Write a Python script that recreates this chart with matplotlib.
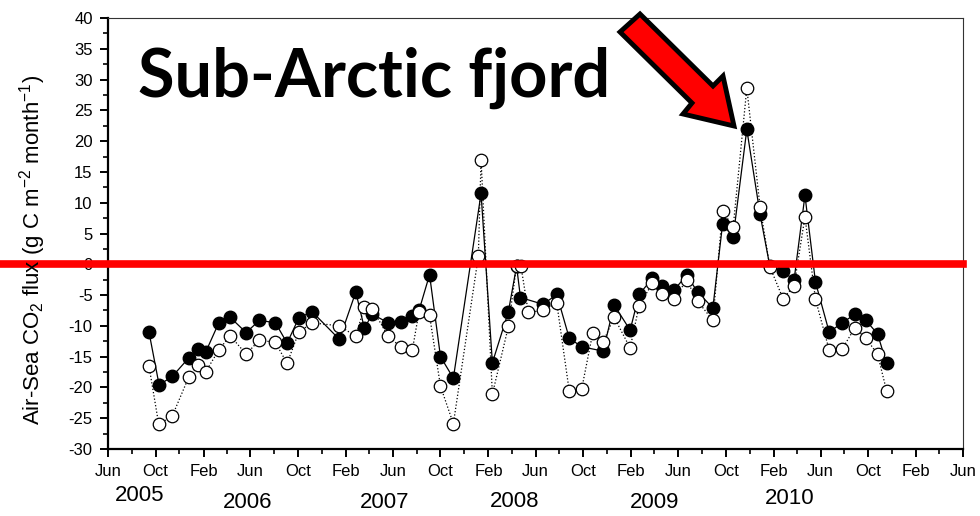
import numpy as np
import pandas as pd
import matplotlib
matplotlib.use('Agg')
import matplotlib.pyplot as plt
import matplotlib.dates as mdates
from matplotlib.patches import Polygon

plt.rcParams['font.family'] = ['Liberation Sans', 'DejaVu Sans']
plt.rcParams['axes.unicode_minus'] = False
plt.rcParams['mathtext.default'] = 'regular'

# monthly air-sea CO2 flux, two estimates
filled_dates = ['2005-09-14', '2005-10-10', '2005-11-13', '2005-12-25', '2006-01-18', '2006-02-06',
                '2006-03-12', '2006-04-10', '2006-05-21', '2006-06-24', '2006-08-04', '2006-09-03',
                '2006-10-03', '2006-11-06', '2007-01-15', '2007-02-26', '2007-03-20', '2007-04-09',
                '2007-05-20', '2007-06-23', '2007-07-20', '2007-08-07', '2007-09-03', '2007-10-01',
                '2007-11-03', '2008-01-13', '2008-02-11', '2008-03-23', '2008-04-13', '2008-04-23',
                '2008-06-20', '2008-07-25', '2008-08-26', '2008-09-27', '2008-11-21', '2008-12-19',
                '2009-01-29', '2009-02-21', '2009-03-27', '2009-04-20', '2009-05-21', '2009-06-23',
                '2009-07-21', '2009-08-29', '2009-09-23', '2009-10-20', '2009-11-24', '2009-12-28',
                '2010-01-22', '2010-02-25', '2010-03-25', '2010-04-22', '2010-05-19', '2010-06-23',
                '2010-07-27', '2010-08-28', '2010-09-25', '2010-10-25', '2010-11-17']
filled_flux = [-11.0, -19.6, -18.2, -15.2, -13.7, -14.3,
               -9.5, -8.6, -11.1, -9.1, -9.5, -12.8,
               -8.7, -7.7, -12.2, -4.5, -10.4, -8.1,
               -9.5, -9.4, -8.4, -7.5, -1.7, -15.0,
               -18.5, 11.5, -16.0, -7.7, -0.3, -5.4,
               -6.5, -4.9, -12.0, -13.4, -14.1, -6.6,
               -10.7, -4.9, -2.3, -3.6, -4.2, -1.8,
               -4.5, -7.1, 6.6, 4.4, 21.9, 8.1,
               -0.3, -1.1, -2.6, 11.2, -2.9, -11.0,
               -9.5, -8.1, -9.1, -11.3, -16.1]

open_dates = ['2005-09-14', '2005-10-09', '2005-11-13', '2005-12-25', '2006-01-18', '2006-02-06',
              '2006-03-12', '2006-04-10', '2006-05-21', '2006-06-24', '2006-08-04', '2006-09-03',
              '2006-10-03', '2006-11-06', '2007-01-15', '2007-02-26', '2007-03-20', '2007-04-09',
              '2007-05-20', '2007-06-23', '2007-07-21', '2007-08-07', '2007-09-03', '2007-10-01',
              '2007-11-03', '2008-01-06', '2008-01-13', '2008-02-11', '2008-03-23', '2008-04-13',
              '2008-04-24', '2008-05-13', '2008-06-20', '2008-07-25', '2008-08-26', '2008-09-27',
              '2008-10-25', '2008-11-21', '2008-12-19', '2009-01-29', '2009-02-21', '2009-03-27',
              '2009-04-20', '2009-05-21', '2009-06-23', '2009-07-21', '2009-08-29', '2009-09-23',
              '2009-10-20', '2009-11-24', '2009-12-28', '2010-01-22', '2010-02-25', '2010-03-25',
              '2010-04-22', '2010-05-19', '2010-06-23', '2010-07-27', '2010-08-28', '2010-09-25',
              '2010-10-25', '2010-11-17']
open_flux = [-16.5, -26.0, -24.6, -18.3, -16.4, -17.5,
             -13.9, -11.6, -14.6, -12.3, -12.7, -16.1,
             -11.0, -9.5, -10.0, -11.7, -6.9, -7.2,
             -11.7, -13.5, -13.9, -7.7, -8.3, -19.8,
             -25.9, 1.3, 17.0, -21.1, -10.1, -0.2,
             -0.2, -7.8, -7.5, -6.3, -20.6, -20.2,
             -11.2, -12.6, -8.6, -13.6, -6.7, -3.1,
             -4.9, -5.6, -2.6, -6.0, -9.1, 8.7,
             6.0, 28.6, 9.3, -0.4, -5.6, -3.5,
             7.7, -5.7, -13.9, -13.7, -10.3, -12.0,
             -14.6, -20.5]

years = ['2005', '2006', '2007', '2008', '2009', '2010']
year_pos = ['2005-08-22', '2006-05-25', '2007-05-11', '2008-04-09', '2009-04-02', '2010-03-14']
year_y = [-0.109, -0.124, -0.124, -0.122, -0.124, -0.116]

W, H = 980, 516
fig = plt.figure(figsize=(W / 100, H / 100), dpi=100)
ax = fig.add_axes([108 / W, 1 - 449 / H, 855 / W, 431 / H])

fd = pd.to_datetime(filled_dates)
od = pd.to_datetime(open_dates)

ax.plot(fd, filled_flux, '-', color='black', lw=0.9, marker='o', ms=9,
        mfc='black', mec='black', mew=1, zorder=3)
ax.plot(od, open_flux, ':', color='black', lw=0.9, marker='o', ms=9,
        mfc='white', mec='black', mew=0.9, zorder=4)

ax.set_xlim(pd.Timestamp('2005-06-01'), pd.Timestamp('2011-06-01'))
ax.set_ylim(-30, 40)
ax.xaxis.set_major_locator(mdates.MonthLocator(bymonth=[2, 6, 10]))
ax.xaxis.set_major_formatter(mdates.DateFormatter('%b'))
ax.xaxis.set_minor_locator(mdates.MonthLocator(bymonth=[4, 8, 12]))
ax.set_yticks(np.arange(-30, 41, 5))
ax.set_yticks(np.arange(-30, 41, 2.5), minor=True)

for s in ['left', 'bottom']:
    ax.spines[s].set_linewidth(1.6)
for s in ['top', 'right']:
    ax.spines[s].set_linewidth(0.8)
    ax.spines[s].set_color('#333333')
ax.tick_params(which='major', direction='out', length=6, width=1.4, labelsize=12, pad=5)
ax.tick_params(which='minor', direction='out', length=3.5, width=1.2)

fig.text(33 / W, 1 - 250 / H, 'Air-Sea CO$_2$ flux (g C m$^{-2}$ month$^{-1}$)',
         rotation=90, ha='center', va='center', fontsize=16)

xt = ax.get_xaxis_transform()
for lab, pos, yy in zip(years, year_pos, year_y):
    ax.text(pd.Timestamp(pos), yy, lab, transform=xt, ha='center', va='center',
            fontsize=16, clip_on=False)

# zero flux line, running out past the y axis
ax.axhline(0, xmin=-108 / 855, xmax=1, color='#ff0000', lw=5.5, clip_on=False, zorder=5)

fig.text(138 / W, 1 - 97 / H, 'Sub-Arctic fjord', fontsize=48, fontweight='bold',
         family=['Lato', 'DejaVu Sans'], ha='left', va='baseline')

# big red arrow pointing at the 2009 peak
arrow_px = [(640, 14), (713, 86), (723, 76), (734, 126), (683, 114), (692, 103), (620, 32)]
arrow = Polygon([(x / W, 1 - y / H) for x, y in arrow_px], closed=True,
                transform=fig.transFigure, facecolor='#ff0000', edgecolor='black',
                linewidth=3.5, joinstyle='miter', zorder=10)
fig.patches.append(arrow)

fig.savefig('out.png', dpi=100, facecolor='white')
